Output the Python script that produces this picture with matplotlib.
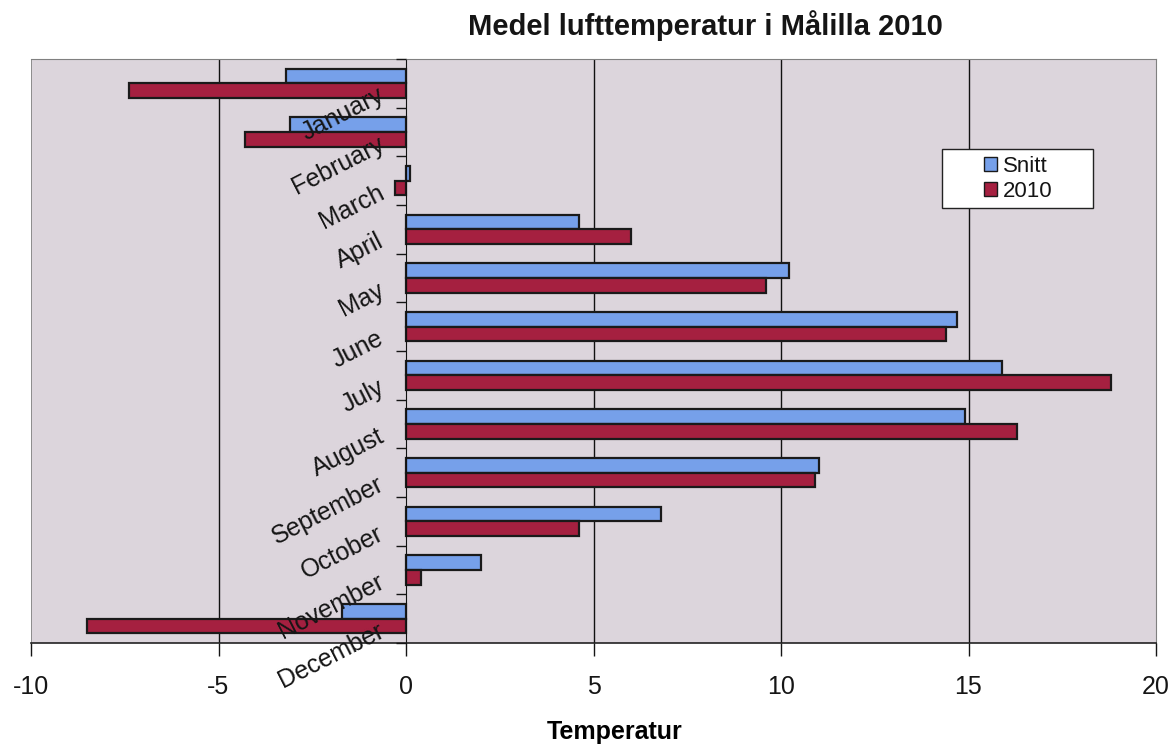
import matplotlib
matplotlib.use('Agg')
import matplotlib.pyplot as plt
import numpy as np
from matplotlib.patches import Patch, Rectangle
from matplotlib.ticker import FixedLocator

plt.rcParams['font.family'] = ['Liberation Sans', 'DejaVu Sans']
plt.rcParams['text.color'] = '#151515'
plt.rcParams['xtick.color'] = '#151515'
plt.rcParams['ytick.color'] = '#151515'

# Monthly mean air temperature, Målilla
months = ['January', 'February', 'March', 'April', 'May', 'June', 'July',
          'August', 'September', 'October', 'November', 'December']
snitt = [-3.2, -3.1, 0.1, 4.6, 10.2, 14.7, 15.9, 14.9, 11.0, 6.8, 2.0, -1.7]
year_2010 = [-7.4, -4.3, -0.3, 6.0, 9.6, 14.4, 18.8, 16.3, 10.9, 4.6, 0.4, -8.5]
x_ticks = [-10, -5, 0, 5, 10, 15, 20]

blue = '#76a0ea'
red = '#a52040'
bg = '#dcd5dc'

fig = plt.figure(figsize=(11.74, 7.48), dpi=100)
ax = fig.add_axes([31 / 1174, 1 - 643 / 748, (1156 - 31) / 1174, (643 - 59) / 748])
ax.set_facecolor(bg)
ax.set_axisbelow(False)  # month labels sit on top of the bars

pos = np.arange(len(months))
h = 0.3
ax.barh(pos - h / 2, snitt, height=h, color=blue, edgecolor='#1a1a1a', linewidth=1.6, zorder=2)
ax.barh(pos + h / 2, year_2010, height=h, color=red, edgecolor='#1a1a1a', linewidth=1.6, zorder=2)

ax.set_xlim(-10, 20)
ax.set_ylim(len(months) - 0.5, -0.5)

# vertical gridlines
for g in [-5, 5, 10, 15]:
    ax.axvline(g, color='#111111', linewidth=1.0, zorder=1)
ax.axvline(-10, color='#808080', linewidth=1.2, zorder=1)

# spines: y axis crosses at 0
ax.spines['left'].set_position(('data', 0))
ax.spines['left'].set_color('#111111')
ax.spines['top'].set_color('#808080')
ax.spines['right'].set_color('#808080')
ax.spines['bottom'].set_color('#222222')
ax.spines['bottom'].set_linewidth(1.2)

ax.set_xticks(x_ticks)
ax.set_xticklabels([str(t) for t in x_ticks], fontsize=18)
ax.tick_params(axis='x', direction='out', length=9, width=1, pad=14)

# category boundaries as major ticks, labels on minor ticks at centres
ax.yaxis.set_major_locator(FixedLocator(np.arange(len(months) + 1) - 0.5))
ax.set_yticklabels([])
ax.set_yticks(pos, minor=True)
ax.set_yticklabels(months, minor=True, fontsize=18, rotation=27,
                   ha='right', va='top', rotation_mode='anchor')
ax.tick_params(axis='y', which='major', direction='out', length=7, width=1)
ax.tick_params(axis='y', which='minor', length=0, pad=21)

ax.set_xlabel('Temperatur', fontsize=18, fontweight='bold')
ax.xaxis.set_label_coords((615 - 31) / 1125, -(732 - 643) / 584)
ax.xaxis.label.set_va('center')

fig.text(705 / 1174, 1 - 26 / 748, 'Medel lufttemperatur i Målilla 2010',
         fontsize=21, fontweight='bold', ha='center', va='center')

# legend
handles = [Patch(facecolor=blue, edgecolor='#1a1a1a', label='Snitt'),
           Patch(facecolor=red, edgecolor='#1a1a1a', label='2010')]
leg = fig.legend(handles=handles, loc='center', bbox_to_anchor=(1018 / 1174, 1 - 179 / 748),
                 frameon=False, fontsize=16, handlelength=0.6, handleheight=0.6,
                 handletextpad=0.25, labelspacing=0.2, borderpad=0)
fig.patches.append(Rectangle((942 / 1174, 1 - 208 / 748), 151 / 1174, 59 / 748,
                             transform=fig.transFigure, facecolor='white',
                             edgecolor='#222222', linewidth=1.0, zorder=4))
leg.set_zorder(5)

fig.savefig('out.png', dpi=100)
